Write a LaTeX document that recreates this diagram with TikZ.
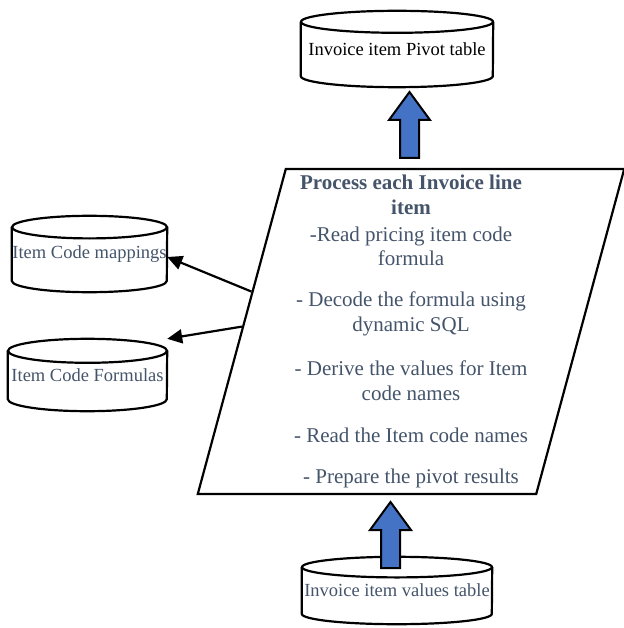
\documentclass[tikz,border=0pt]{standalone}
\usepackage{fontspec}
\setmainfont{Liberation Serif}
\usetikzlibrary{shapes.geometric, arrows.meta, calc}

\definecolor{slate}{HTML}{44546A}
\definecolor{office blue}{HTML}{4472C4}

% cylinder round a node: #1 node, #2 half width, #3 cap radius (pt)
\newcommand\drawdb[3]{%
  \draw[dbline] ($(#1.north west)+(0,#3)$) -- ($(#1.south west)+(0,-#3)$)
    arc[start angle=180, end angle=360, x radius=#2pt, y radius=#3pt]
    -- ($(#1.north east)+(0,#3)$);
  \draw[dbline] ($(#1.north)+(0,#3)$) ellipse [x radius=#2pt, y radius=#3pt];
}

\tikzset{
  db/.style={inner sep=0pt, text=slate, font=\fontsize{18.5}{21}\selectfont},
  dbline/.style={line width=2.2pt},
  process/.style={trapezium, trapezium left angle=75.3, trapezium right angle=104.7,
    trapezium stretches=true, draw, line width=2.2pt, inner sep=0pt,
    align=center, text=slate, font=\fontsize{21}{24.8}\selectfont},
  fatarrow/.style={draw, line width=2pt, fill=office blue, line join=miter},
  link/.style={-{Triangle[length=15pt, width=14pt]}, line width=2.2pt},
  % block arrow pointing up, tail at the origin
  fatup/.pic={\draw[fatarrow] (-9.5,0) -- (-9.5,-38) -- (-20.5,-38) -- (0,-66)
    -- (20.5,-38) -- (9.5,-38) -- (9.5,0) -- cycle;}
}

\begin{document}
\begin{tikzpicture}[x=1pt, y=-1pt]
  \useasboundingbox (0,0) rectangle (623,628);

  % tables
  \node[db, minimum width=192pt, minimum height=76pt, text=black] (pivot) at (397,49) {Invoice item Pivot table};
  \node[db, minimum width=155pt, minimum height=76pt] (maps) at (89.5,254) {Item Code mappings};
  \node[db, minimum width=159pt, minimum height=72pt] (formulas) at (87.5,375) {\raisebox{-3pt}{Item Code Formulas}};
  \node[db, minimum width=190pt, minimum height=67pt] (values) at (397,590.5) {\raisebox{-2pt}{Invoice item values table}};
  \drawdb{pivot}{96}{11}
  \drawdb{maps}{77.5}{11.3}
  \drawdb{formulas}{79.5}{12}
  \drawdb{values}{95}{10.3}

  % main step
  \node[process, minimum width=428pt, minimum height=325pt] (proc) at (411,331.5) {%
    \textbf{Process each Invoice line}\\
    \textbf{item}\\[2pt]
    -Read pricing item code\\
    formula\\[16pt]
    - Decode the formula using\\
    dynamic SQL\\[19pt]
    - Derive the values for Item\\
    code names\\[18pt]
    - Read the Item code names\\[16pt]
    - Prepare the pivot results};

  % flow in and out
  \pic at (409.5,158) {fatup};
  \pic at (390.5,568) {fatup};

  % lookups
  \draw[link] ($(proc.top left corner)!0.378!(proc.bottom left corner)$) -- ($(maps.east)+(0,3)$);
  \draw[link] ($(proc.top left corner)!0.485!(proc.bottom left corner)$) -- (formulas.north east);
\end{tikzpicture}
\end{document}
